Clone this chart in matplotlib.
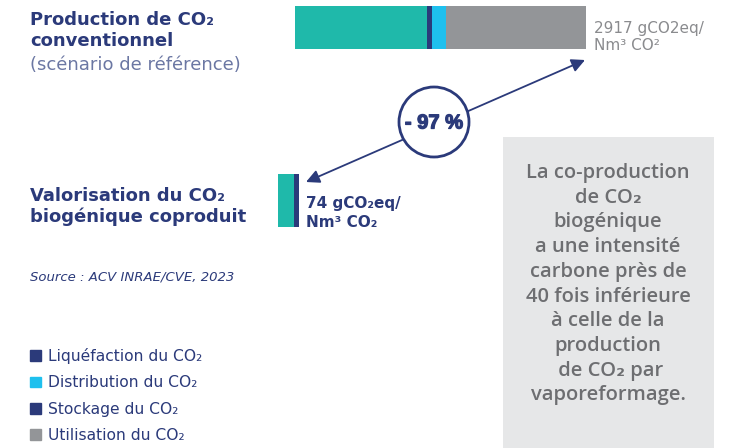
import matplotlib
matplotlib.use("Agg")
import matplotlib.pyplot as plt
import matplotlib.patheffects as pe
from matplotlib.patches import Patch, Circle, Rectangle

plt.rcParams['font.family'] = ['DejaVu Sans']

# données (gCO2eq / Nm3 CO2)
stages = ['Production', 'Liquéfaction du CO₂', 'Distribution du CO₂',
          'Stockage du CO₂', 'Utilisation du CO₂']
conventionnel = [1322, 50, 140, 3, 1402]
biogenique = [56, 18, 0, 0, 0]
total_conv = 2917
total_bio = 74
reduction = '- 97 %'

colors = ['#1fb9aa', '#2b3a7a', '#1ec0ee', '#2b3a7a', '#939598']
navy = '#2b3a7a'
grey_txt = '#6d6e71'

fig = plt.figure(figsize=(7.45, 4.48), dpi=100)
W, H = 745, 448

# calque texte en coordonnées pixels
ov = fig.add_axes([0, 0, 1, 1])
ov.set_xlim(0, W)
ov.set_ylim(H, 0)
ov.axis('off')

# barre du scénario de référence
ax1 = fig.add_axes([295 / W, 1 - 49 / H, 291 / W, 43 / H])
left = 0
for v, c in zip(conventionnel, colors):
    ax1.barh(0, v, left=left, color=c, height=1, linewidth=0)
    left += v
ax1.set_xlim(0, total_conv)
ax1.set_ylim(-0.5, 0.5)
ax1.axis('off')

# barre du CO2 biogénique
ax2 = fig.add_axes([278 / W, 1 - 227 / H, 21 / W, 53 / H])
left = 0
for v, c in zip(biogenique, colors):
    ax2.barh(0, v, left=left, color=c, height=1, linewidth=0)
    left += v
ax2.set_xlim(0, total_bio)
ax2.set_ylim(-0.5, 0.5)
ax2.axis('off')

# titres à gauche
ov.text(30, 11, 'Production de CO₂\nconventionnel', fontsize=13, fontweight='bold',
        color=navy, va='top', ha='left', linespacing=1.25)
ov.text(30, 56, '(scénario de référence)', fontsize=13, color='#6b77a3',
        va='top', ha='left')
ov.text(30, 187, 'Valorisation du CO₂\nbiogénique coproduit', fontsize=13,
        fontweight='bold', color=navy, va='top', ha='left', linespacing=1.2)
ov.text(30, 277, 'Source : ACV INRAE/CVE, 2023', fontsize=9.5, style='italic',
        color=navy, va='center', ha='left')

# valeurs
ov.text(594, 21, '%d gCO2eq/\nNm³ CO²' % total_conv, fontsize=11, color='#8a8b8e',
        va='top', ha='left', linespacing=1.15)
ov.text(306, 196, '%d gCO₂eq/\nNm³ CO₂' % total_bio, fontsize=11, color=navy,
        fontweight='bold', va='top', ha='left', linespacing=1.3)

# flèche et cercle
ov.annotate('', xy=(585, 60), xytext=(306, 182),
            arrowprops=dict(arrowstyle='<|-|>', color=navy, lw=1.3,
                            mutation_scale=20, shrinkA=0, shrinkB=0))
ov.add_patch(Circle((434, 122), 35, facecolor='white', edgecolor=navy, lw=2,
                    zorder=5))
ov.text(434, 123, reduction, fontsize=14.5, fontweight='bold', color=navy,
        family=['Liberation Sans', 'DejaVu Sans'],
        path_effects=[pe.withStroke(linewidth=0.9, foreground=navy)],
        ha='center', va='center', zorder=6)

# encadré
ov.add_patch(Rectangle((503, 137), 211, 320, facecolor='#e6e7e8',
                       edgecolor='none', zorder=1))
box_lines = ['La co-production', 'de CO₂', 'biogénique', 'a une intensité',
             'carbone près de', '40 fois inférieure', 'à celle de la',
             'production', ' de CO₂ par', 'vaporeformage.']
for i, line in enumerate(box_lines):
    ov.text(608, 173 + i * 24.7, line, fontsize=14.5, fontweight='semibold',
            family=['Open Sans', 'DejaVu Sans'],
            color=grey_txt, ha='center', va='center', zorder=2)

# légende
handles = [Patch(color=c) for c in colors[1:]]
fig.legend(handles, stages[1:], loc='upper left',
           bbox_to_anchor=(24 / W, 1 - 342 / H), frameon=False,
           fontsize=11.2, labelcolor=navy, handlelength=0.7,
           handleheight=0.7, handletextpad=0.45, labelspacing=0.72,
           borderaxespad=0)

fig.savefig('out.png', dpi=100)
